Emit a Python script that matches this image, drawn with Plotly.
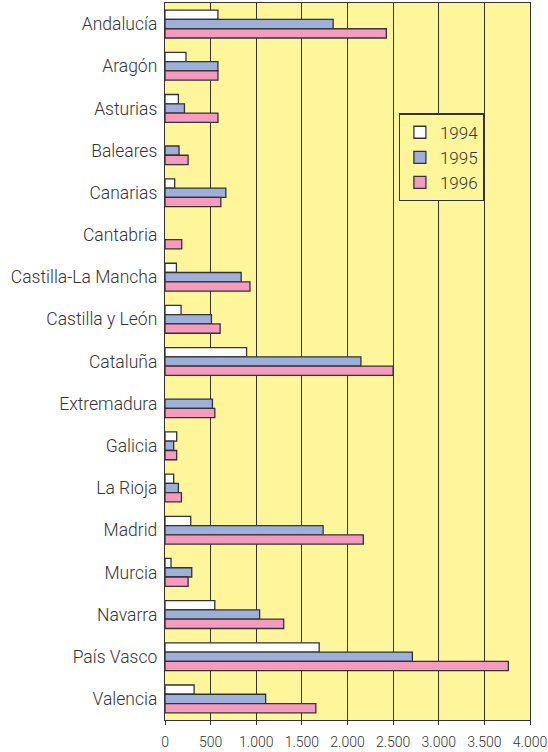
import plotly.graph_objects as go

regiones = ["Andalucía", "Aragón", "Asturias", "Baleares", "Canarias", "Cantabria",
            "Castilla-La Mancha", "Castilla y León", "Cataluña", "Extremadura",
            "Galicia", "La Rioja", "Madrid", "Murcia", "Navarra", "País Vasco", "Valencia"]

v1994 = [580, 230, 147, None, 106, None, 125, 176, 894, None, 128, 95, 282, 66, 546, 1690, 319]
v1995 = [1843, 580, 213, 154, 667, None, 835, 509, 2147, 520, 95, 147, 1733, 293, 1037, 2711, 1103]
v1996 = [2426, 580, 580, 253, 612, 183, 931, 604, 2500, 546, 128, 180, 2173, 253, 1301, 3763, 1653]

series = [("1994", v1994, "#ffffff"), ("1995", v1995, "#9cb0d9"), ("1996", v1996, "#f59bc0")]

tickvals = [0, 500, 1000, 1500, 2000, 2500, 3000, 3500, 4000]

FONT = "Roboto, Liberation Sans, Arial, sans-serif"

fig = go.Figure()
for name, vals, col in series:
    fig.add_trace(go.Bar(
        y=regiones, x=vals, name=name, orientation="h",
        marker=dict(color=col, line=dict(color="#333333", width=1.3)),
    ))

fig.update_layout(
    width=548, height=752,
    margin=dict(l=165, r=18, t=3, b=32),
    paper_bgcolor="white",
    plot_bgcolor="#fff59b",
    barmode="group",
    bargap=0.34,
    bargroupgap=0,
    separators=",.",
    font=dict(family=FONT, color="#333333", size=17, weight=300),
    legend=dict(
        x=0.64, y=0.846, xanchor="left", yanchor="top",
        bgcolor="#fff59b", bordercolor="#333333", borderwidth=1.3,
        traceorder="normal", font=dict(size=17, family=FONT, weight=300),
        itemwidth=30, tracegroupgap=0,
    ),
    showlegend=True,
)

fig.update_xaxes(
    range=[0, 4000], tickvals=tickvals, tickformat=",d",
    showgrid=True, gridcolor="#333333", gridwidth=1.4,
    showline=True, linecolor="#333333", linewidth=1.4, mirror=True,
    ticks="outside", ticklen=4, tickcolor="#333333", ticklabelstandoff=5,
    tickfont=dict(size=14, family=FONT, weight=300), zeroline=False, automargin=False,
)
fig.update_yaxes(
    autorange="reversed", type="category",
    showgrid=False, showline=True, linecolor="#333333", linewidth=1.4, mirror=True,
    ticks="outside", ticklen=3, tickcolor="rgba(0,0,0,0)",
    tickfont=dict(size=17.5, family=FONT, weight=300), automargin=False,
)

fig.write_html("out.html", config={"displayModeBar": False},
               post_script="document.body.style.margin='0';")
